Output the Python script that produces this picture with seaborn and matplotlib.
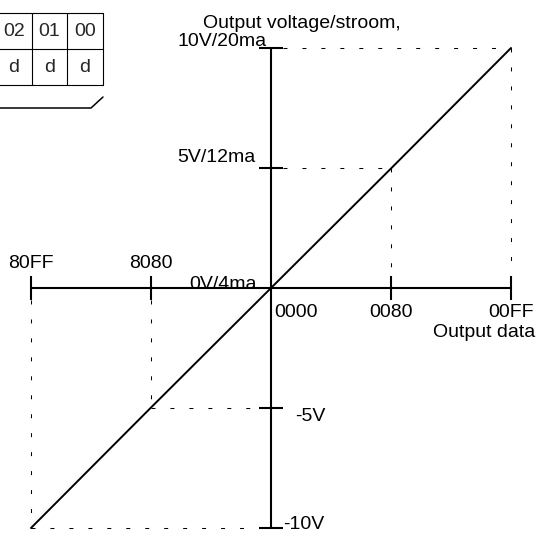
import matplotlib
matplotlib.use("Agg")
import matplotlib.pyplot as plt
from matplotlib.lines import Line2D
import seaborn as sns

# Transfer characteristic: digital code -> analog output
codes = ["80FF", "8080", "0000", "0080", "00FF"]
code_values = [-255, -128, 0, 128, 255]
volts = [-10, -5, 0, 5, 10]
volt_labels = ["-10V", "-5V", "0V/4ma", "5V/12ma", "10V/20ma"]
bit_labels = ["02", "01", "00"]
bit_values = ["d", "d", "d"]

sns.set_style("white")
plt.rcParams["font.family"] = ["Liberation Sans", "DejaVu Sans"]

W, H = 536, 533
fig = plt.figure(figsize=(W / 100, H / 100), dpi=100)
ax = fig.add_axes([0, 0, 1, 1])
ax.set_axis_off()

# origin at pixel (271, 288); 240 px per 255 counts, 24 px per volt
ox, oy = 271, 288
sx, sy = 240 / 255, 24
ax.set_xlim(-ox / sx, (W - ox) / sx)
ax.set_ylim(-(H - oy) / sy, oy / sy)

tick_x = 12 / sx   # half tick length along x (counts)
tick_y = 12 / sy   # half tick length along y (volts)
FS = 14
AX_LW = 1.5
dash = dict(color="black", lw=0.75, linestyle=(0, (3.8, 14.4)))

# axes
xmin, xmax = min(code_values), max(code_values)
vmin, vmax = min(volts), max(volts)
ax.plot([xmin, xmax], [0, 0], color="black", lw=AX_LW, solid_capstyle="butt")
ax.plot([0, 0], [vmin, vmax], color="black", lw=AX_LW, solid_capstyle="butt")

# ticks
for c in code_values:
    if c != 0:
        ax.plot([c, c], [-tick_y, tick_y], color="black", lw=AX_LW, solid_capstyle="butt")
for v in volts:
    if v != 0:
        ax.plot([-tick_x, tick_x], [v, v], color="black", lw=AX_LW, solid_capstyle="butt")

# transfer line
sns.lineplot(x=code_values, y=volts, ax=ax, color="black", lw=1.4, sort=False)

# dashed guides from each point back to the axes
for c, v in zip(code_values, volts):
    if c == 0:
        continue
    if c > 0:
        ax.plot([tick_x, c], [v, v], **dash)
        ax.plot([c, c], [v, tick_y], **dash)
    else:
        ax.plot([c, -tick_x], [v, v], **dash)
        ax.plot([c, c], [-tick_y, v], **dash)

def label(text, xy, off, ha):
    ax.annotate(text, xy=xy, xytext=off, textcoords="offset pixels",
                ha=ha, va="baseline", fontsize=FS, color="black")

# code labels
for c, t in zip(code_values, codes):
    if c < 0:
        label(t, (c, 0), (0, 20), "center")
    elif c == 0:
        label(t, (c, 0), (3, -29), "left")
    else:
        label(t, (c, 0), (0, -29), "center")
label("Output data", (xmax, 0), (24, -49), "right")

# voltage labels
volt_offsets = {-10: (12, -1, "left"), -5: (24, -13, "left"),
                0: (-14, -1, "right"), 5: (-16, 6, "right"),
                10: (-4, 2, "right")}
for v, t in zip(volts, volt_labels):
    dx, dy, ha = volt_offsets[v]
    label(t, (0, v), (dx, dy), ha)
label("Output voltage/stroom,", (0, vmax), (-68, 20), "left")

# bit table in the upper-left corner (pixel layout)
def fx(x):
    return x / W

def fy(y):
    return 1 - y / H

col_edges = [-4, 32, 67, 103]
row_edges = [13, 49, 85]
for x in col_edges:
    fig.add_artist(Line2D([fx(x), fx(x)], [fy(row_edges[0]), fy(row_edges[-1])],
                          color="black", lw=0.8))
for y in row_edges:
    fig.add_artist(Line2D([fx(col_edges[0]), fx(col_edges[-1])], [fy(y), fy(y)],
                          color="black", lw=0.8))
for i, (b, d) in enumerate(zip(bit_labels, bit_values)):
    cx = (col_edges[i] + col_edges[i + 1]) / 2
    for r, t in enumerate((b, d)):
        cy = (row_edges[r] + row_edges[r + 1]) / 2
        fig.text(fx(cx), fy(cy), t, ha="center", va="center", fontsize=FS)

# bracket under the table
fig.add_artist(Line2D([fx(0), fx(91), fx(103)], [fy(108), fy(108), fy(97)],
                      color="black", lw=1.1))

fig.savefig("out.png", dpi=100)
